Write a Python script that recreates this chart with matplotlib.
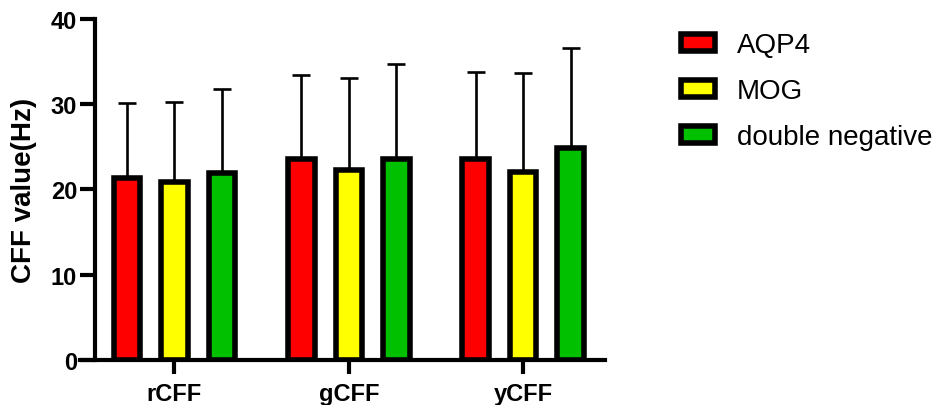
import numpy as np
import matplotlib
matplotlib.use('Agg')
import matplotlib.pyplot as plt

plt.rcParams['font.family'] = ['Liberation Sans', 'DejaVu Sans']

# 数据
categories = ['rCFF', 'gCFF', 'yCFF']
groups = ['AQP4', 'MOG', 'double negative']
colors = ['#FF0000', '#FFFF00', '#00C000']
mean_aqp4 = [21.4, 23.6, 23.6]
mean_mog = [20.9, 22.3, 22.1]
mean_dn = [21.9, 23.6, 24.9]
sd_aqp4 = [8.7, 9.8, 10.2]
sd_mog = [9.4, 10.8, 11.6]
sd_dn = [9.9, 11.1, 11.7]
yticks = [0, 10, 20, 30, 40]

means = [mean_aqp4, mean_mog, mean_dn]
sds = [sd_aqp4, sd_mog, sd_dn]

fig = plt.figure(figsize=(9.37, 4.06), dpi=100)
ax = fig.add_axes([0.0854, 0.1108, 0.5603, 0.84])

# 坐标轴样式（先移动左轴，否则刻度设置会被重置）
for s in ['top', 'right']:
    ax.spines[s].set_visible(False)
ax.spines['left'].set_position(('data', -0.456))
ax.spines['left'].set_linewidth(3)
ax.spines['bottom'].set_linewidth(3)
ax.spines['left'].set_capstyle('projecting')

x = np.arange(len(categories))
offset = 0.2725
width = 0.152
for i in range(3):
    xi = x + (i - 1) * offset
    ax.errorbar(xi, means[i], yerr=[np.zeros(3), sds[i]], fmt='none',
                ecolor='black', elinewidth=1.9, capsize=6.5, capthick=1.9, zorder=1)
    ax.bar(xi, means[i], width=width, color=colors[i], edgecolor='black',
           linewidth=4, label=groups[i], zorder=2)

ax.set_xlim(-0.542, 2.47)
ax.set_ylim(0, 40)
ax.set_yticks(yticks)
ax.set_xticks(x)
ax.set_xticklabels(categories, fontsize=17, fontweight='bold')
ax.set_yticklabels([str(t) for t in yticks], fontsize=17, fontweight='bold')
ax.set_ylabel('CFF value(Hz)', fontsize=20, fontweight='bold', labelpad=10)

ax.tick_params(axis='y', length=10.8, width=3, pad=2)
ax.tick_params(axis='x', length=10, width=3, pad=6)

leg = fig.legend(loc='upper left', bbox_to_anchor=(0.727, 0.918), frameon=False,
                 fontsize=20, handlelength=1.2, handleheight=0.55,
                 handletextpad=0.8, labelspacing=0.72, borderpad=0, borderaxespad=0)
for p in leg.get_patches():
    p.set_linewidth(4)

fig.savefig('out.png', dpi=100)
